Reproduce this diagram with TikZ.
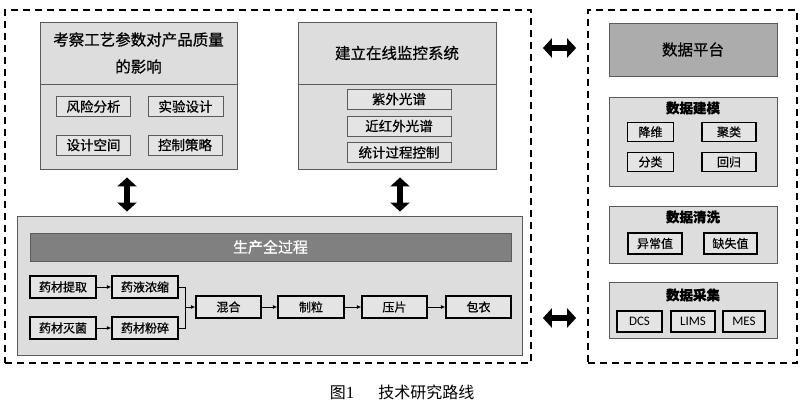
\documentclass[tikz,border=0pt]{standalone}
\usepackage{fontspec}
\setmainfont{Noto Sans CJK SC}[FakeBold=0.6]
\newfontfamily\latinfont{Carlito}
\newfontfamily\capfont{Noto Sans CJK SC}
\newfontfamily\capnum{Liberation Serif}
\usetikzlibrary{arrows.meta}

\begin{document}
\begin{tikzpicture}[x=1pt,y=1pt,
  frame/.style={draw=black,line width=1.8pt,dash pattern=on 7pt off 5pt,fill=none},
  panel/.style={draw=borderGray,line width=0.9pt,fill=panelGray,inner sep=0pt},
  item/.style={draw=borderGray,line width=0.9pt,fill=itemGray,inner sep=0pt,font=\fontsize{13.5}{14}\selectfont},
  tag/.style={draw=black,line width=1.3pt,fill=itemGray,inner sep=0pt,font=\fontsize{12}{13}\selectfont},
  stage/.style={draw=black,line width=1.3pt,fill=itemGray,inner sep=0pt,minimum width=66pt,minimum height=22pt,font=\fontsize{12}{13}\selectfont},
  heading/.style={inner sep=0pt,font=\bfseries\fontsize{13.5}{14}\selectfont},
  bigarrow/.style={line width=6pt,{Triangle[length=9pt,width=19pt]}-{Triangle[length=9pt,width=19pt]}},
  flow/.style={line width=0.9pt,-{Latex[length=4.5pt,width=4pt]}}]
\definecolor{panelGray}{RGB}{221,221,221}
\definecolor{itemGray}{RGB}{228,228,228}
\definecolor{borderGray}{RGB}{90,90,90}
\definecolor{barGray}{RGB}{128,128,128}
\definecolor{platformGray}{RGB}{172,172,172}
\path[use as bounding box,fill=white] (0,0) rectangle (800,404);

% dashed frames
\node[frame,minimum width=526pt,minimum height=353pt,inner sep=0pt] (leftframe) at (268,217.5) {};
\node[frame,minimum width=209pt,minimum height=353pt,inner sep=0pt] (rightframe) at (692.5,217.5) {};

% quality study block
\node[panel,minimum width=197pt,minimum height=62pt,align=center,font=\fontsize{15.5}{27}\selectfont] (studytop) at (138.5,351) {考察工艺参数对产品质量\\的影响};
\node[panel,minimum width=197pt,minimum height=85pt] (studybot) at (138.5,277.5) {};
\node[item,minimum width=74pt,minimum height=20pt] (risk) at (93.5,297.5) {风险分析};
\node[item,minimum width=75pt,minimum height=20pt] (doe) at (185.5,297.5) {实验设计};
\node[item,minimum width=74pt,minimum height=20pt] (space) at (93.5,259) {设计空间};
\node[item,minimum width=74pt,minimum height=20pt] (strategy) at (185,259) {控制策略};

% online monitoring block
\node[panel,minimum width=198pt,minimum height=62pt,font=\fontsize{15.5}{16}\selectfont] (montop) at (397,351) {建立在线监控系统};
\node[panel,minimum width=198pt,minimum height=85pt] (monbot) at (397,277.5) {};
\node[item,minimum width=104pt,minimum height=20pt] (uv) at (399,305) {紫外光谱};
\node[item,minimum width=104pt,minimum height=20pt] (nir) at (399,278) {近红外光谱};
\node[item,minimum width=104pt,minimum height=20pt] (spc) at (399,251.5) {统计过程控制};

% whole production process
\node[panel,minimum width=505pt,minimum height=139pt] (process) at (269.5,118.5) {};
\node[draw=borderGray,line width=0.9pt,fill=barGray,inner sep=0pt,minimum width=481pt,minimum height=28pt,text=white,font=\fontsize{15}{16}\selectfont] (processbar) at (270.5,157) {生产全过程};
\node[stage] (extract) at (63,117) {药材提取};
\node[stage] (concentrate) at (145,117) {药液浓缩};
\node[stage] (sterilize) at (63,76) {药材灭菌};
\node[stage] (grind) at (145,76) {药材粉碎};
\node[stage,minimum width=65pt] (mix) at (228.5,97) {混合};
\node[stage] (granulate) at (311,97) {制粒};
\node[stage,minimum width=65pt] (press) at (394.5,97) {压片};
\node[stage,minimum width=65pt] (coat) at (478.5,97) {包衣};
\coordinate (merge) at (185,97);

\draw[flow] (extract) -- (concentrate);
\draw[flow] (sterilize) -- (grind);
\draw[line width=0.9pt] (concentrate.east) -| (merge);
\draw[line width=0.9pt] (grind.east) -| (merge);
\draw[flow] (merge) -- (mix);
\draw[flow] (mix) -- (granulate);
\draw[flow] (granulate) -- (press);
\draw[flow] (press) -- (coat);

% data side
\node[draw=borderGray,line width=0.9pt,fill=platformGray,inner sep=0pt,minimum width=168pt,minimum height=53pt,font=\fontsize{15.5}{16}\selectfont] (platform) at (693,354.5) {数据平台};

\node[panel,minimum width=168pt,minimum height=89pt] (modeling) at (693,262.5) {};
\node[heading] (modelingtitle) at (693,296) {数据建模};
\node[tag,minimum width=46pt,minimum height=19pt] (reduce) at (650.5,272) {降维};
\node[tag,minimum width=54pt,minimum height=19pt] (cluster) at (729,272) {聚类};
\node[tag,minimum width=46pt,minimum height=19pt] (classify) at (650.5,242) {分类};
\node[tag,minimum width=54pt,minimum height=19pt] (regress) at (729,242) {回归};

\node[panel,minimum width=168pt,minimum height=57pt] (cleaning) at (693,169.5) {};
\node[heading] (cleaningtitle) at (693,187) {数据清洗};
\node[tag,minimum width=54pt,minimum height=21pt] (outlier) at (655,160.5) {异常值};
\node[tag,minimum width=53pt,minimum height=21pt] (missing) at (730.5,160.5) {缺失值};

\node[panel,minimum width=168pt,minimum height=56pt] (collect) at (693,94) {};
\node[heading] (collecttitle) at (693,109) {数据采集};
\node[tag,minimum width=45pt,minimum height=21pt,font=\latinfont\fontsize{13}{14}\selectfont] (dcs) at (639.5,82.5) {DCS};
\node[tag,minimum width=44pt,minimum height=21pt,font=\latinfont\fontsize{13}{14}\selectfont] (lims) at (693,82.5) {LIMS};
\node[tag,minimum width=42pt,minimum height=21pt,font=\latinfont\fontsize{13}{14}\selectfont] (mes) at (744,82.5) {MES};

% big double arrows
\draw[bigarrow,shorten <=8pt,shorten >=4pt] ([xshift=-11.5pt]studybot.south) -- ([xshift=-11.5pt]studybot.south |- process.north);
\draw[bigarrow,shorten <=8pt,shorten >=4pt] ([xshift=3pt]monbot.south) -- ([xshift=3pt]monbot.south |- process.north);
\draw[bigarrow,shorten <=11pt,shorten >=11pt] (leftframe.east |- 0,356) -- (rightframe.west |- 0,356);
\draw[bigarrow,shorten <=11pt,shorten >=11pt] (leftframe.east |- 0,86) -- (rightframe.west |- 0,86);

% caption
\node[inner sep=0pt,font=\capfont\fontsize{16}{17}\selectfont] (caption) at (402,12) {图{\capnum\fontsize{17}{17}\selectfont 1}\hspace{1.5em}技术研究路线};
\end{tikzpicture}
\end{document}
